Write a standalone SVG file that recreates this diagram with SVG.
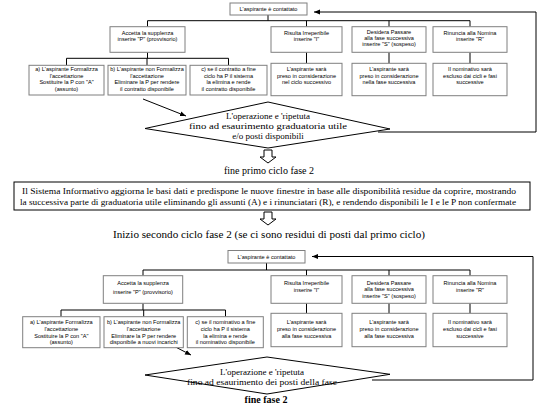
<svg xmlns="http://www.w3.org/2000/svg" width="543" height="407" viewBox="0 0 543 407">
<defs>
<style>
.bx{fill:#fff;stroke:#7f7f7f;stroke-width:1}
.bk{fill:#fff;stroke:#000;stroke-width:1}
.ln{fill:none;stroke:#000;stroke-width:1}
.s{font-family:"Liberation Sans",Arial,sans-serif;font-size:5.6px;text-anchor:middle;fill:#000}
.t{font-family:"Liberation Serif","Times New Roman",serif;font-size:9px;text-anchor:middle;fill:#000}
.t10{font-family:"Liberation Serif","Times New Roman",serif;font-size:10px;text-anchor:middle;fill:#000}
.tb{font-family:"Liberation Serif","Times New Roman",serif;font-size:10px;font-weight:bold;text-anchor:middle;fill:#000}
</style>
<marker id="ah" viewBox="0 0 10 10" refX="10" refY="5" markerWidth="6" markerHeight="6" orient="auto" markerUnits="userSpaceOnUse">
<path d="M0,1 L10,5 L0,9 z" fill="#000"/>
</marker>
</defs>
<rect width="543" height="407" fill="#fff"/>

<g id="connectors">
<polyline class="ln" points="268,15 268,20.7"/>
<polyline class="ln" points="147.5,20.7 470,20.7"/>
<polyline class="ln" points="147.5,20.7 147.5,26.7"/>
<polyline class="ln" points="306.5,20.7 306.5,26.7"/>
<polyline class="ln" points="389,20.7 389,26.7"/>
<polyline class="ln" points="470,20.7 470,26.7"/>
<polyline class="ln" points="306.5,52.3 306.5,63.3"/>
<polyline class="ln" points="389,52.3 389,63.3"/>
<polyline class="ln" points="470,52.3 470,63.3"/>
<polyline class="ln" points="147.5,52.3 147.5,58.3"/>
<polyline class="ln" points="66.5,58.3 228.5,58.3"/>
<polyline class="ln" points="66.5,58.3 66.5,65.3"/>
<polyline class="ln" points="147,58.3 147,65.3"/>
<polyline class="ln" points="228.5,58.3 228.5,65.3"/>
<line class="ln" x1="143" y1="99" x2="186" y2="116" marker-end="url(#ah)"/>
<polyline class="ln" points="378,132 536,132 536,12 314,12" marker-end="url(#ah)"/>
<polygon class="bk" points="264,150 272,150 272,157 276,157 268,163 260,157 264,157"/>
<polygon class="bk" points="264,212 272,212 272,219 276,219 268,225 260,219 264,219"/>
<polyline class="ln" points="266.5,263 266.5,270"/>
<polyline class="ln" points="143,270 470,270"/>
<polyline class="ln" points="143,270 143,275.7"/>
<polyline class="ln" points="306.5,270 306.5,275.7"/>
<polyline class="ln" points="389,270 389,275.7"/>
<polyline class="ln" points="470,270 470,275.7"/>
<polyline class="ln" points="306.5,303.3 306.5,313.3"/>
<polyline class="ln" points="389,303.3 389,313.3"/>
<polyline class="ln" points="470,303.3 470,313.3"/>
<polyline class="ln" points="143,303.3 143,310"/>
<polyline class="ln" points="61,310 225.5,310"/>
<polyline class="ln" points="61,310 61,316.7"/>
<polyline class="ln" points="143.7,310 143.7,316.7"/>
<polyline class="ln" points="225.5,310 225.5,316.7"/>
<line class="ln" x1="162" y1="340" x2="191" y2="355" marker-end="url(#ah)"/>
<polyline class="ln" points="372,380 533,380 533,256.5 312,256.5" marker-end="url(#ah)"/>
</g>

<g id="top-contact"><rect class="bx" x="230" y="3" width="77" height="12"/><text class="s" x="268.5" y="11">L'aspirante è contattato</text></g>
<g id="top-accept"><rect class="bx" x="110" y="26.7" width="75" height="25.6"/><text class="s" x="147.5" y="34.5">Accetta la supplenza</text><text class="s" x="147.5" y="41">inserire "P" (provvisorio)</text></g>
<g id="top-irrep"><rect class="bx" x="271" y="26.7" width="71" height="25.6"/><text class="s" x="306.5" y="34.5">Risulta Irreperibile</text><text class="s" x="306.5" y="41">inserire "I"</text></g>
<g id="top-pass"><rect class="bx" x="352" y="26.7" width="74" height="25.6"/><text class="s" x="389" y="33.5">Desidera Passare</text><text class="s" x="389" y="39.5">alla fase successiva</text><text class="s" x="389" y="45.5">inserire "S" (sospeso)</text></g>
<g id="top-reject"><rect class="bx" x="433" y="26.7" width="74" height="25.6"/><text class="s" x="470" y="34.5">Rinuncia alla Nomina</text><text class="s" x="470" y="41">inserire "R"</text></g>
<g id="top-a"><rect class="bx" x="29" y="65.3" width="75" height="29.7"/><text class="s" x="66.5" y="71">a) L'aspirante Formalizza</text><text class="s" x="66.5" y="77.7">l'accettazione</text><text class="s" x="66.5" y="84.3">Sostituire la P con "A"</text><text class="s" x="66.5" y="91">(assunto)</text></g>
<g id="top-b"><rect class="bx" x="108" y="65.3" width="78" height="29.7"/><text class="s" x="147" y="71">b) L'aspirante non Formalizza</text><text class="s" x="147" y="77.7">l'accettazione</text><text class="s" x="147" y="84.3">Eliminare la P per rendere</text><text class="s" x="147" y="91">il contratto disponibile</text></g>
<g id="top-c"><rect class="bx" x="190" y="65.3" width="77" height="29.7"/><text class="s" x="228.5" y="71">c) se il contratto a fine</text><text class="s" x="228.5" y="77.7">ciclo ha P il sistema</text><text class="s" x="228.5" y="84.3">la elimina e rende</text><text class="s" x="228.5" y="91">il contratto disponibile</text></g>
<g id="top-irrep2"><rect class="bx" x="271" y="63.3" width="71" height="32.4"/><text class="s" x="306.5" y="71">L'aspirante sarà</text><text class="s" x="306.5" y="77.7">preso in considerazione</text><text class="s" x="306.5" y="84.3">nel ciclo successivo</text></g>
<g id="top-pass2"><rect class="bx" x="352" y="63.3" width="74" height="32.4"/><text class="s" x="389" y="71">L'aspirante sarà</text><text class="s" x="389" y="77.7">preso in considerazione</text><text class="s" x="389" y="84.3">nella fase successiva</text></g>
<g id="top-reject2"><rect class="bx" x="433" y="63.3" width="74" height="32.4"/><text class="s" x="470" y="71">Il nominativo sarà</text><text class="s" x="470" y="77.7">escluso dai cicli e fasi</text><text class="s" x="470" y="84.3">successive</text></g>
<g id="top-diamond"><polygon class="ln" points="145,128.5 268,102 390,129 268,148"/><text class="t" x="268" y="119">L'operazione e 'ripetuta</text><text class="t" x="268" y="129" textLength="158" lengthAdjust="spacingAndGlyphs">fino ad esaurimento graduatoria utile</text><text class="t" x="268" y="139">e/o posti disponibili</text></g>
<g id="end-cycle1"><text class="t10" x="269" y="174">fine primo ciclo fase 2</text></g>
<g id="system"><rect class="bk" x="14" y="182" width="516" height="28"/><text class="t" x="269" y="194" textLength="494" lengthAdjust="spacingAndGlyphs">Il Sistema Informativo aggiorna le basi dati e predispone le nuove finestre in base alle disponibilità residue da coprire, mostrando</text><text class="t" x="268" y="205" textLength="496" lengthAdjust="spacingAndGlyphs">la successiva parte di graduatoria utile eliminando gli assunti (A) e i rinunciatari (R), e rendendo disponibili le I e le P non confermate</text></g>
<g id="start-cycle2"><text class="t10" x="269" y="238" textLength="312" lengthAdjust="spacingAndGlyphs">Inizio secondo ciclo fase 2 (se ci sono residui di posti dal primo ciclo)</text></g>

<g id="bot-contact"><rect class="bx" x="228" y="250.5" width="77" height="12.5"/><text class="s" x="266.5" y="258.8">L'aspirante è contattato</text></g>
<g id="bot-accept"><rect class="bx" x="103.3" y="275.7" width="79.4" height="27.6"/><text class="s" x="143" y="284.5">Accetta la supplenza</text><text class="s" x="143" y="294">inserire "P" (provvisorio)</text></g>
<g id="bot-irrep"><rect class="bx" x="271" y="275.7" width="71" height="27.6"/><text class="s" x="306.5" y="284.5">Risulta Irreperibile</text><text class="s" x="306.5" y="291.5">inserire "I"</text></g>
<g id="bot-pass"><rect class="bx" x="352" y="275.7" width="74" height="27.6"/><text class="s" x="389" y="284.5">Desidera Passare</text><text class="s" x="389" y="291">alla fase successiva</text><text class="s" x="389" y="297.7">inserire "S" (sospeso)</text></g>
<g id="bot-reject"><rect class="bx" x="433" y="275.7" width="74" height="27.6"/><text class="s" x="470" y="284.5">Rinuncia alla Nomina</text><text class="s" x="470" y="291.5">inserire "R"</text></g>
<g id="bot-a"><rect class="bx" x="22.7" y="316.7" width="77.3" height="31"/><text class="s" x="61.3" y="324.3">a) L'aspirante Formalizza</text><text class="s" x="61.3" y="331">l'accettazione</text><text class="s" x="61.3" y="337.7">Sostituire la P con "A"</text><text class="s" x="61.3" y="344.3">(assunto)</text></g>
<g id="bot-b"><rect class="bx" x="104" y="316.7" width="79.3" height="31"/><text class="s" x="143.7" y="324.3">b) L'aspirante non Formalizza</text><text class="s" x="143.7" y="331">l'accettazione</text><text class="s" x="143.7" y="337.7">Eliminare la P per rendere</text><text class="s" x="143.7" y="344.3">disponibile a nuovi incarichi</text></g>
<g id="bot-c"><rect class="bx" x="187.3" y="316.7" width="76" height="31"/><text class="s" x="225.3" y="324.3">c) se il nominativo a fine</text><text class="s" x="225.3" y="331">ciclo ha P il sistema</text><text class="s" x="225.3" y="337.7">la elimina e rende</text><text class="s" x="225.3" y="344.3">il nominativo disponibile</text></g>
<g id="bot-irrep2"><rect class="bx" x="271" y="313.3" width="71" height="33.4"/><text class="s" x="306.5" y="324.3">L'aspirante sarà</text><text class="s" x="306.5" y="331">preso in considerazione</text><text class="s" x="306.5" y="337.7">alla fase successiva</text></g>
<g id="bot-pass2"><rect class="bx" x="352" y="313.3" width="74" height="33.4"/><text class="s" x="389" y="324.3">L'aspirante sarà</text><text class="s" x="389" y="331">preso in considerazione</text><text class="s" x="389" y="337.7">alla fase successiva</text></g>
<g id="bot-reject2"><rect class="bx" x="433" y="313.3" width="74" height="33.4"/><text class="s" x="470" y="324.3">Il nominativo sarà</text><text class="s" x="470" y="331">escluso dai cicli e fasi</text><text class="s" x="470" y="337.7">successive</text></g>
<g id="bot-diamond"><polygon class="ln" points="145,375 267,357 390,374.3 267,394"/><text class="t" x="262" y="374.5">L'operazione e 'ripetuta</text><text class="t" x="262" y="384.5" textLength="150" lengthAdjust="spacingAndGlyphs">fino ad esaurimento dei posti della fase</text></g>
<g id="end-phase2"><text class="tb" x="266" y="403">fine fase 2</text></g>
</svg>
